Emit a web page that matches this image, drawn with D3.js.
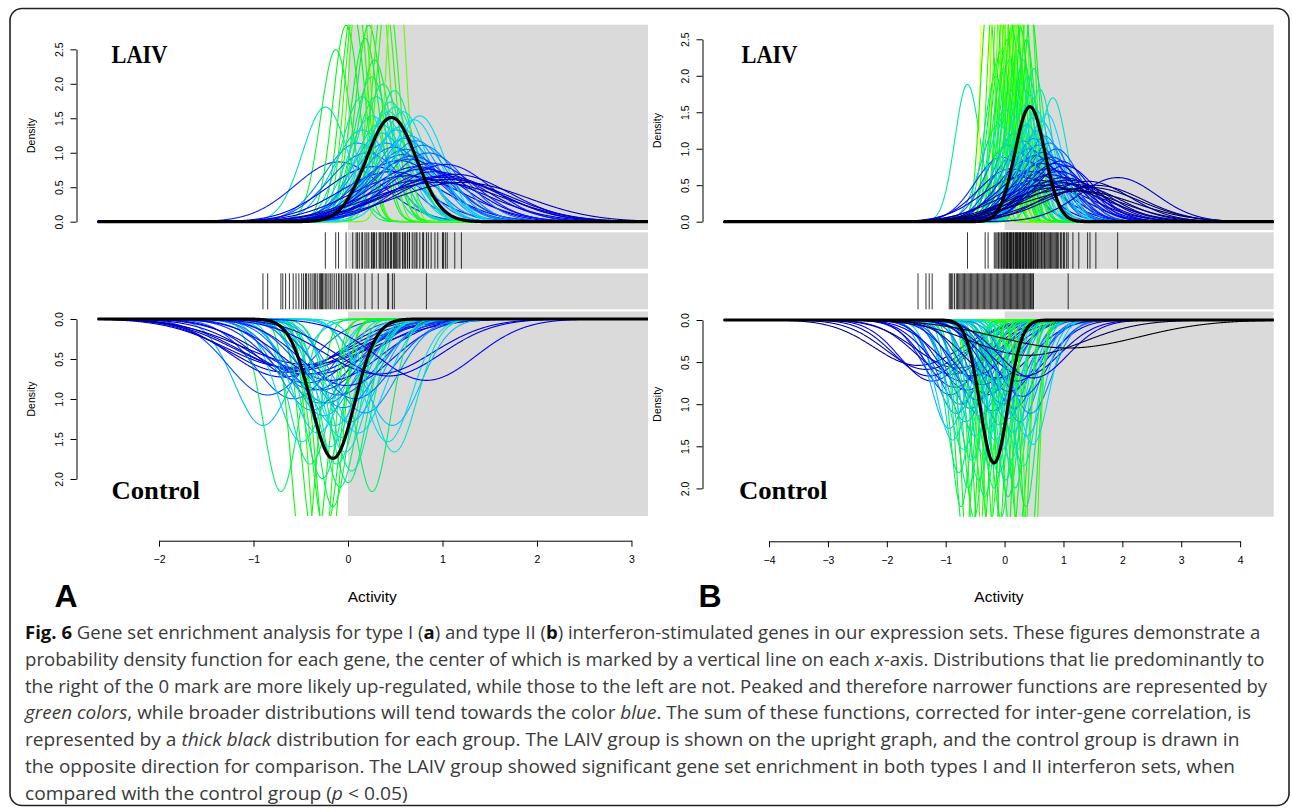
<!DOCTYPE html>
<html>
<head>
<meta charset="utf-8">
<script src="https://cdn.jsdelivr.net/npm/d3@7"></script>
<style>
	body { margin: 0; background: #fff; }
</style>
</head>
<body>
<div id="fig"></div>
<script>
// gene activity curves: [center, spread]
const aLaivGenes = [
	[-0.24,0.24],[-0.13,0.16],[-0.10,0.46],[-0.02,0.14],[0.05,0.13],[0.086,0.12],[0.10,0.35],[0.12,0.11],
	[0.15,0.30],[0.15,0.22],[0.18,0.15],[0.20,0.40],[0.22,0.14],[0.25,0.19],[0.255,0.26],[0.27,0.50],
	[0.28,0.17],[0.30,0.22],[0.33,0.11],[0.34,0.28],[0.35,0.31],[0.37,0.20],[0.38,0.12],[0.40,0.35],
	[0.40,0.27],[0.42,0.12],[0.43,0.25],[0.45,0.23],[0.46,0.55],[0.48,0.37],[0.49,0.21],[0.50,0.24],
	[0.51,0.10],[0.52,0.30],[0.54,0.45],[0.55,0.29],[0.58,0.25],[0.58,0.41],[0.60,0.33],[0.61,0.38],
	[0.63,0.60],[0.65,0.32],[0.65,0.44],[0.68,0.42],[0.70,0.27],[0.72,0.34],[0.73,0.50],[0.76,0.26],
	[0.79,0.36],[0.80,0.52],[0.83,0.65],[0.85,0.40],[0.88,0.47],[0.92,0.55],[0.95,0.70],[1.00,0.62],
	[1.01,0.60],[1.03,0.48],[1.05,0.65],[1.13,0.58],[1.20,0.70]
];
const aCtrlGenes = [
	[-0.90,0.30],[-0.85,0.42],[-0.71,0.185],[-0.69,0.55],[-0.66,0.60],[-0.62,0.66],[-0.58,0.40],[-0.55,0.64],
	[-0.52,0.62],[-0.49,0.26],[-0.47,0.13],[-0.45,0.58],[-0.44,0.50],[-0.42,0.70],[-0.40,0.22],[-0.38,0.35],
	[-0.36,0.45],[-0.35,0.14],[-0.34,0.58],[-0.32,0.28],[-0.30,0.38],[-0.29,0.12],[-0.28,0.45],[-0.27,0.20],
	[-0.255,0.33],[-0.24,0.15],[-0.225,0.38],[-0.21,0.13],[-0.19,0.25],[-0.18,0.52],[-0.16,0.17],[-0.14,0.30],
	[-0.12,0.22],[-0.10,0.42],[-0.086,0.19],[-0.068,0.27],[-0.05,0.36],[-0.03,0.24],[-0.015,0.48],[0.003,0.195],
	[0.02,0.31],[0.04,0.21],[0.075,0.40],[0.11,0.28],[0.18,0.34],[0.255,0.185],[0.32,0.58],[0.42,0.26],
	[0.43,0.56],[0.47,0.30],[0.49,0.24],[0.83,0.52]
];
const bLaivGenes = [
	[-0.63,0.212],[-0.33,0.05],[-0.28,0.13],[-0.175,0.12],[-0.15,0.20],[-0.13,0.09],[-0.11,0.18],[-0.10,0.30],
	[-0.08,0.11],[-0.06,0.17],[-0.05,0.45],[-0.03,0.10],[-0.02,0.19],[0.00,0.13],[0.01,0.26],[0.03,0.09],
	[0.04,0.16],[0.05,0.38],[0.06,0.12],[0.08,0.18],[0.09,0.22],[0.10,0.10],[0.11,0.55],[0.12,0.15],
	[0.14,0.20],[0.15,0.11],[0.16,0.33],[0.18,0.14],[0.19,0.24],[0.20,0.09],[0.21,0.42],[0.22,0.17],
	[0.24,0.12],[0.25,0.27],[0.26,0.65],[0.27,0.15],[0.28,0.21],[0.30,0.10],[0.31,0.36],[0.32,0.18],
	[0.33,0.13],[0.35,0.25],[0.36,0.48],[0.37,0.16],[0.38,0.30],[0.40,0.20],[0.41,0.12],[0.42,0.40],
	[0.44,0.23],[0.45,0.14],[0.46,0.58],[0.48,0.28],[0.49,0.35],[0.50,0.19],[0.52,0.44],[0.53,0.26],
	[0.55,0.70],[0.56,0.32],[0.58,0.38],[0.60,0.22],[0.62,0.50],[0.63,0.29],[0.65,0.42],[0.67,0.80],
	[0.68,0.34],[0.70,0.46],[0.72,0.27],[0.74,0.55],[0.76,0.37],[0.78,0.62],[0.80,0.45],[0.82,0.235],
	[0.84,0.72],[0.86,0.50],[0.88,0.40],[0.90,0.85],[0.92,0.58],[0.95,0.48],[0.97,0.75],[1.00,0.66],
	[1.02,0.52],[1.055,0.90],[1.08,0.70],[1.16,0.78],[1.26,0.95],[1.41,0.72],[1.45,0.85],[1.55,0.80],
	[1.92,0.66]
];
const bCtrlGenes = [
	[-1.47,0.74],[-1.335,0.68],[-1.28,0.60],[-1.23,0.55],[-0.94,0.31],[-0.92,0.45],[-0.90,0.62],[-0.88,0.28],
	[-0.85,0.50],[-0.82,0.36],[-0.80,0.70],[-0.78,0.22],[-0.76,0.40],[-0.74,0.18],[-0.72,0.55],[-0.70,0.26],
	[-0.68,0.15],[-0.66,0.33],[-0.64,0.48],[-0.62,0.20],[-0.60,0.13],[-0.58,0.38],[-0.56,0.24],[-0.54,0.60],
	[-0.52,0.17],[-0.50,0.29],[-0.48,0.12],[-0.46,0.42],[-0.44,0.21],[-0.42,0.35],[-0.40,0.14],[-0.38,0.52],
	[-0.36,0.25],[-0.34,0.19],[-0.32,0.11],[-0.30,0.31],[-0.28,0.45],[-0.26,0.16],[-0.24,0.23],[-0.22,0.12],
	[-0.20,0.37],[-0.18,0.20],[-0.16,0.28],[-0.14,0.14],[-0.12,0.58],[-0.10,0.22],[-0.08,0.32],[-0.06,0.17],
	[-0.04,0.26],[-0.02,0.40],[0.00,0.13],[0.02,0.21],[0.04,0.34],[0.06,0.19],[0.08,0.47],[0.10,0.24],
	[0.12,0.15],[0.14,0.30],[0.16,0.38],[0.18,0.20],[0.20,0.55],[0.22,0.26],[0.24,0.16],[0.26,0.33],
	[0.28,0.12],[0.30,0.44],[0.32,0.23],[0.34,0.60],[0.36,0.18],[0.38,0.29],[0.40,0.95],[0.42,0.14],
	[0.44,0.36],[0.46,0.11],[0.48,0.27],[0.49,0.58],[1.08,1.20]
];

// thick black summed distributions [center, spread]: LAIV, Control
const aSummary = [[0.46, 0.264], [-0.16, 0.229]];
const bSummary = [[0.43, 0.253], [-0.18, 0.235]];

const xTicksA = [-2, -1, 0, 1, 2, 3];
const xTicksB = [-4, -3, -2, -1, 0, 1, 2, 3, 4];
const upperTicks = [0, 0.5, 1, 1.5, 2, 2.5];
const lowerTicks = [0, 0.5, 1, 1.5, 2];
const groupNames = ["LAIV", "Control"];

const captionLines = [
	"**Fig. 6** Gene set enrichment analysis for type I (**a**) and type II (**b**) interferon-stimulated genes in our expression sets. These figures demonstrate a",
	"probability density function for each gene, the center of which is marked by a vertical line on each _x_-axis. Distributions that lie predominantly to",
	"the right of the 0 mark are more likely up-regulated, while those to the left are not. Peaked and therefore narrower functions are represented by",
	"_green colors_, while broader distributions will tend towards the color _blue_. The sum of these functions, corrected for inter-gene correlation, is",
	"represented by a _thick black_ distribution for each group. The LAIV group is shown on the upright graph, and the control group is drawn in",
	"the opposite direction for comparison. The LAIV group showed significant gene set enrichment in both types I and II interferon sets, when",
	"compared with the control group (_p_ < 0.05)"
];
const captionEnds = [1261, 1266, 1268, 1252, 1240, 1236, 408];

// narrow -> green, broad -> blue
const spreadColor = d3.scaleLinear()
	.domain([0.05, 0.13, 0.27, 0.50, 0.80, 1.15])
	.range(["#ffff00", "#00ff00", "#00d8ff", "#0000ff", "#000080", "#000000"])
	.clamp(true);

function dnorm(x, m, s) {
	return Math.exp(-0.5 * ((x - m) / s) * ((x - m) / s)) / (s * Math.sqrt(2 * Math.PI));
}

const W = 1292, H = 812;
const svg = d3.select("#fig").append("svg")
	.attr("width", W)
	.attr("height", H)
	.style("font-family", "'Liberation Sans', Arial, sans-serif");

svg.append("rect")
	.attr("x", 10).attr("y", 8.5)
	.attr("width", 1279).attr("height", 797)
	.attr("rx", 12)
	.attr("fill", "none")
	.attr("stroke", "#222")
	.attr("stroke-width", 1.6);

const panels = [
	{ id: "A", laiv: aLaivGenes, ctrl: aCtrlGenes, summary: aSummary, xTicks: xTicksA,
	  xDomain: [-2.65, 3.175], xRange: [97.6, 648], upMax: 2.857, upBase: 221.7,
	  dnMax: 2.4625, dnBase: 319, dnBottom: 516, axisX: 76.5, axisY: 540.7,
	  laivPos: [111.5, 63.3], ctrlPos: [111.5, 499], letterX: 54.5, activityX: 372.3 },
	{ id: "B", laiv: bLaivGenes, ctrl: bCtrlGenes, summary: bSummary, xTicks: xTicksB,
	  xDomain: [-4.77, 4.57], xRange: [723.7, 1273.7], upMax: 2.70, upBase: 221.7,
	  dnMax: 2.336, dnBase: 320, dnBottom: 516.7, axisX: 702.5, axisY: 541.3,
	  laivPos: [741.5, 63.3], ctrlPos: [739, 499.3], letterX: 698.5, activityX: 998.9 }
];

const plotTop = 24.7;
const strips = [[232.3, 268.7], [273.3, 309.3]];

function drawPanel(p) {
	const g = svg.append("g");
	const x = d3.scaleLinear().domain(p.xDomain).range(p.xRange);
	const yUp = d3.scaleLinear().domain([0, p.upMax]).range([p.upBase, plotTop]);
	const yDn = d3.scaleLinear().domain([0, p.dnMax]).range([p.dnBase, p.dnBottom]);
	const grid = d3.range(0, 1201).map(i => p.xDomain[0] + i * (p.xDomain[1] - p.xDomain[0]) / 1200);
	const x0 = x(0), xr = p.xRange[1];

	// grey region right of zero
	const shadeBands = [[plotTop, 230], strips[0], strips[1], [311.5, p.dnBottom]];
	g.selectAll("rect.shade")
		.data(shadeBands)
		.enter()
		.append("rect")
		.attr("class", "shade")
		.attr("x", x0)
		.attr("y", d => d[0])
		.attr("width", xr - x0)
		.attr("height", d => d[1] - d[0])
		.attr("fill", "#dadada");

	const clipUp = "clipUp" + p.id, clipDn = "clipDn" + p.id;
	g.append("clipPath").attr("id", clipUp)
		.append("rect").attr("x", p.xRange[0] - 3).attr("y", plotTop)
		.attr("width", p.xRange[1] - p.xRange[0] + 6).attr("height", 230 - plotTop);
	g.append("clipPath").attr("id", clipDn)
		.append("rect").attr("x", p.xRange[0] - 3).attr("y", 311.5)
		.attr("width", p.xRange[1] - p.xRange[0] + 6).attr("height", p.dnBottom - 311.5);

	const lineUp = d3.line().x(d => x(d[0])).y(d => yUp(d[1]));
	const lineDn = d3.line().x(d => x(d[0])).y(d => yDn(d[1]));
	const curve = (m, s) => grid.map(v => [v, dnorm(v, m, s)]);

	const up = g.append("g").attr("clip-path", `url(#${clipUp})`);
	up.selectAll("path.gene")
		.data(p.laiv)
		.enter()
		.append("path")
		.attr("class", "gene")
		.attr("d", d => lineUp(curve(d[0], d[1])))
		.attr("fill", "none")
		.attr("stroke", d => spreadColor(d[1]))
		.attr("stroke-width", 1.1);
	up.append("path")
		.attr("d", lineUp(curve(p.summary[0][0], p.summary[0][1])))
		.attr("fill", "none").attr("stroke", "#000").attr("stroke-width", 3.2);

	const dn = g.append("g").attr("clip-path", `url(#${clipDn})`);
	dn.selectAll("path.gene")
		.data(p.ctrl)
		.enter()
		.append("path")
		.attr("class", "gene")
		.attr("d", d => lineDn(curve(d[0], d[1])))
		.attr("fill", "none")
		.attr("stroke", d => spreadColor(d[1]))
		.attr("stroke-width", 1.1);
	dn.append("path")
		.attr("d", lineDn(curve(p.summary[1][0], p.summary[1][1])))
		.attr("fill", "none").attr("stroke", "#000").attr("stroke-width", 3.2);

	// rugs: centre of each gene
	[p.laiv, p.ctrl].forEach((genes, i) => {
		g.selectAll("line.rug" + i)
			.data(genes)
			.enter()
			.append("line")
			.attr("class", "rug" + i)
			.attr("x1", d => x(d[0])).attr("x2", d => x(d[0]))
			.attr("y1", strips[i][0]).attr("y2", strips[i][1])
			.attr("stroke", "#000")
			.attr("stroke-opacity", 0.8)
			.attr("stroke-width", 1);
	});

	// y axes
	const yAxisUp = d3.scaleLinear().domain([0, 2.5]).range([yUp(0), yUp(2.5)]);
	const yAxisDn = d3.scaleLinear().domain([0, 2]).range([yDn(0), yDn(2)]);
	[[yAxisUp, upperTicks], [yAxisDn, lowerTicks]].forEach(([sc, ticks]) => {
		const ax = g.append("g")
			.attr("transform", `translate(${p.axisX},0)`)
			.call(d3.axisLeft(sc).tickValues(ticks).tickFormat(d3.format(".1f")).tickSize(6).tickSizeOuter(0));
		ax.selectAll("text")
			.attr("transform", "rotate(-90)")
			.attr("x", 0).attr("y", -13.5).attr("dy", null)
			.attr("text-anchor", "middle")
			.attr("font-size", "10.5px")
			.attr("font-family", "'Liberation Sans', Arial, sans-serif")
			.attr("fill", "#000");
		ax.selectAll("path, line").attr("stroke", "#000");
	});
	[(yUp(0) + yUp(2.5)) / 2, (yDn(0) + yDn(2)) / 2].forEach(yc => {
		g.append("text")
			.attr("transform", `translate(${p.axisX - 41.5},${yc}) rotate(-90)`)
			.attr("text-anchor", "middle")
			.attr("font-size", "10.5px")
			.text("Density");
	});

	// x axis
	const xAxisSc = d3.scaleLinear()
		.domain([p.xTicks[0], p.xTicks[p.xTicks.length - 1]])
		.range([x(p.xTicks[0]), x(p.xTicks[p.xTicks.length - 1])]);
	const xa = g.append("g")
		.attr("transform", `translate(0,${p.axisY})`)
		.call(d3.axisBottom(xAxisSc).tickValues(p.xTicks).tickFormat(d3.format("d")).tickSize(6).tickSizeOuter(0).tickPadding(9));
	xa.selectAll("text")
		.attr("font-size", "10.5px")
		.attr("font-family", "'Liberation Sans', Arial, sans-serif")
		.attr("fill", "#000");
	xa.selectAll("path, line").attr("stroke", "#000");

	g.append("text")
		.attr("x", p.activityX).attr("y", 602)
		.attr("text-anchor", "middle")
		.attr("font-size", "15.5px")
		.text("Activity");

	g.append("text")
		.attr("x", p.letterX).attr("y", 606.5)
		.attr("font-size", "32px")
		.attr("font-weight", "bold")
		.text(p.id);

	// group labels
	[[groupNames[0], p.laivPos, 56], [groupNames[1], p.ctrlPos, 88.5]].forEach(([t, pos, len]) => {
		g.append("text")
			.attr("x", pos[0]).attr("y", pos[1])
			.attr("font-family", "'Liberation Serif', 'DejaVu Serif', serif")
			.attr("font-weight", "bold")
			.attr("font-size", "26px")
			.attr("textLength", len)
			.attr("lengthAdjust", "spacingAndGlyphs")
			.text(t);
	});
}

panels.forEach(drawPanel);

// caption
const cap = svg.append("g")
	.attr("font-family", "'Open Sans', 'Noto Sans', sans-serif")
	.attr("font-size", "18px")
	.attr("fill", "#3a3a3a");

captionLines.forEach((line, i) => {
	const yb = 639 + i * 26.8;
	const t = cap.append("text").attr("x", 0).attr("y", 0);
	line.split(/(\*\*[^*]+\*\*|_[^_]+_)/).filter(s => s.length).forEach(part => {
		const ts = t.append("tspan");
		if (part.startsWith("**")) {
			ts.text(part.slice(2, -2)).attr("font-weight", "bold").attr("fill", "#111");
		} else if (part.startsWith("_")) {
			ts.text(part.slice(1, -1)).attr("font-style", "italic");
		} else {
			ts.text(part);
		}
	});
	const w = t.node().getComputedTextLength();
	const target = captionEnds[i] - 25;
	t.attr("transform", `translate(25,${yb}) scale(${target / w},1)`);
});
</script>
</body>
</html>
